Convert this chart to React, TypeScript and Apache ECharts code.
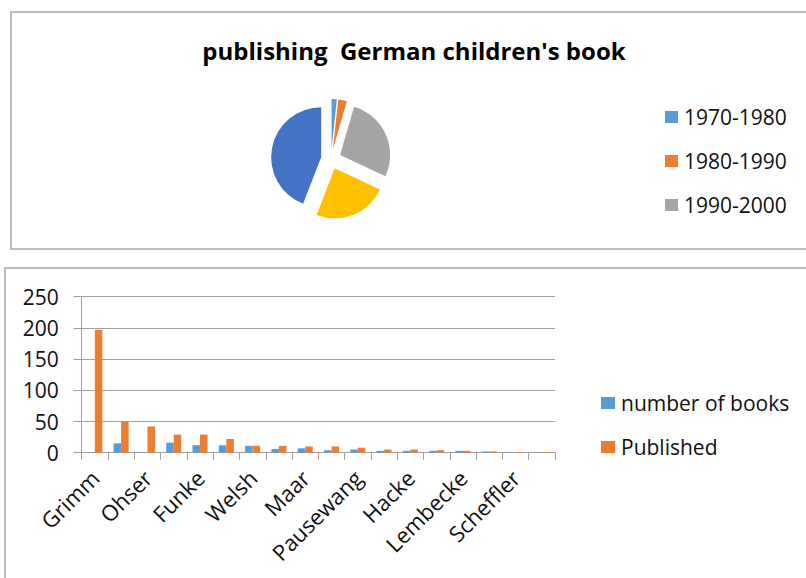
import React, { useEffect, useRef } from "react";
import * as echarts from "echarts";

const pieTitle = "publishing  German children's book";
const pieNames = ["1970-1980", "1980-1990", "1990-2000", "2000-2010", "2010-2020"];
const pieValues = [1.7, 2.8, 27.5, 23.9, 44.1];
const pieColors = ["#5b9bd5", "#ed7d31", "#a5a5a5", "#ffc000", "#4472c4"];
const pieLegendNames = ["1970-1980", "1980-1990", "1990-2000"];

const authors = [
  "Grimm", "Kästner", "Ohser", "Preußler", "Funke", "Ende", "Welsh", "Janosch", "Maar",
  "Nöstlinger", "Pausewang", "Boie", "Hacke", "Steinhöfel", "Lembecke", "Härtling", "Scheffler", "Heidenreich",
];
const numberOfBooks = [1, 15, 1, 16, 12, 12, 11, 6, 7, 4, 5, 3, 3, 3, 3, 2, 1, 1];
const published = [197, 50, 42, 29, 29, 22, 11, 11, 10, 10, 8, 5, 5, 4, 3, 2, 1, 1];
const yTicks = { min: 0, max: 250, interval: 50 };

const FONT = "'Open Sans', sans-serif";

export default function App() {
  const ref = useRef<HTMLDivElement>(null);
  useEffect(() => {
    if (!ref.current) return;
    const chart = echarts.init(ref.current, null, { renderer: "svg" });
    const option: any = {
      animation: false,
      backgroundColor: "#ffffff",
      textStyle: { fontFamily: FONT },
      title: {
        text: pieTitle,
        left: 409,
        textAlign: "center",
        top: 33,
        textStyle: { fontFamily: FONT, fontWeight: "bold", fontSize: 24, color: "#000" },
      },
      graphic: [
        { type: "rect", shape: { x: 11, y: 12, width: 820, height: 237 }, style: { fill: "none", stroke: "#a6a6a6", lineWidth: 1.5 }, silent: true },
        { type: "rect", shape: { x: 5, y: 268, width: 820, height: 330 }, style: { fill: "none", stroke: "#a6a6a6", lineWidth: 1.5 }, silent: true },
      ],
      legend: [
        {
          data: pieLegendNames,
          orient: "vertical",
          left: 660,
          top: 101,
          itemWidth: 13,
          itemHeight: 12,
          itemGap: 22,
          icon: "rect",
          textStyle: { fontFamily: FONT, fontSize: 21, color: "#111", lineHeight: 22, padding: [0, 0, 0, 1] },
          selectedMode: false,
        },
        {
          data: ["number of books", "Published"],
          orient: "vertical",
          left: 596,
          top: 387,
          itemWidth: 14,
          itemHeight: 12,
          itemGap: 22,
          icon: "rect",
          textStyle: { fontFamily: FONT, fontSize: 21, color: "#111", lineHeight: 22, padding: [0, 0, 0, 1] },
          selectedMode: false,
        },
      ],
      grid: { left: 81.7, top: 296.7, width: 473.3, height: 156, containLabel: false },
      xAxis: {
        type: "category",
        data: authors,
        boundaryGap: true,
        axisLine: { show: true, lineStyle: { color: "#a0a0a0", width: 1 } },
        axisTick: { show: true, interval: 0, length: 7, alignWithLabel: false, lineStyle: { color: "#a0a0a0" } },
        axisLabel: { interval: 1, rotate: 45, margin: 21, fontFamily: FONT, fontSize: 22, color: "#111" },
      },
      yAxis: {
        type: "value",
        min: yTicks.min,
        max: yTicks.max,
        interval: yTicks.interval,
        axisLine: { show: true, lineStyle: { color: "#a0a0a0", width: 1 } },
        axisTick: { show: true, length: 8, lineStyle: { color: "#a0a0a0" } },
        splitLine: { show: true, lineStyle: { color: "#a0a0a0", width: 1 } },
        axisLabel: { margin: 23, fontFamily: FONT, fontSize: 21, color: "#111" },
      },
      series: [
        {
          type: "pie",
          name: "pie",
          center: [331, 159],
          radius: 50,
          startAngle: 90,
          clockwise: true,
          selectedMode: "multiple",
          selectedOffset: 10,
          label: { show: false },
          labelLine: { show: false },
          emphasis: { disabled: true },
          data: pieNames.map((n, i) => ({ name: n, value: pieValues[i], selected: true, itemStyle: { color: pieColors[i] } })),
        },
        {
          type: "bar",
          name: "number of books",
          data: numberOfBooks,
          barWidth: 7.5,
          barGap: "0%",
          itemStyle: { color: "#5b9bd5" },
        },
        {
          type: "bar",
          name: "Published",
          data: published,
          barWidth: 7.5,
          barGap: "0%",
          itemStyle: { color: "#ed7d31" },
        },
      ],
    };
    chart.setOption(option);
    return () => chart.dispose();
  }, []);
  return <div ref={ref} style={{ position: "absolute", left: 0, top: 0, width: 806, height: 578 }} />;
}
